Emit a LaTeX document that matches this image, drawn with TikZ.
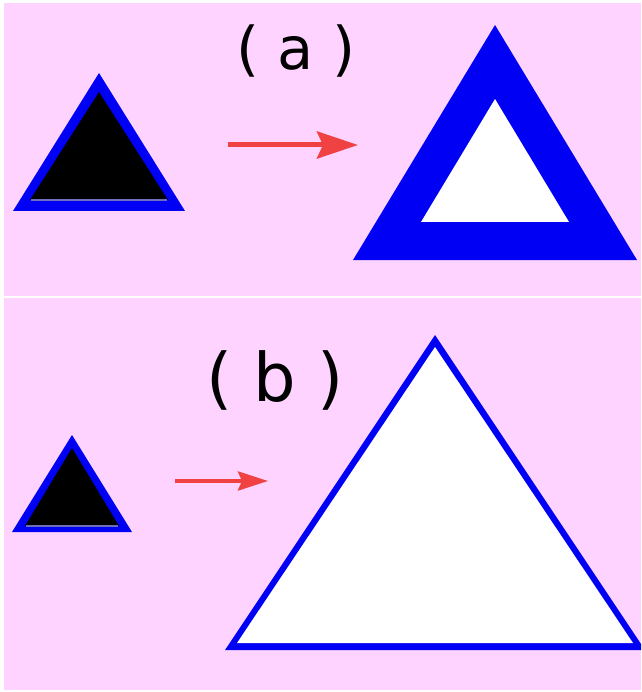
\documentclass[tikz,border=0pt]{standalone}
\usepackage{fontspec}
\setmainfont{DejaVu Sans}
\usetikzlibrary{arrows.meta}
\definecolor{panelpink}{RGB}{255,211,255}
\definecolor{rimblue}{RGB}{0,0,245}
\definecolor{arrowred}{RGB}{240,66,66}
\definecolor{seamblue}{RGB}{110,110,190}

\begin{document}
\begin{tikzpicture}[x=1pt,y=-1pt,
  panel/.style={fill=panelpink},
  rim/.style={fill=rimblue},
  core/.style={fill=black},
  hole/.style={fill=white},
  seam/.style={draw=seamblue,line width=1.2pt},
  push/.style={draw=arrowred,line width=#1},
  tag/.style={anchor=base,inner sep=0pt}]
  \useasboundingbox (0,0) rectangle (641,692);
  \fill[white] (0,0) rectangle (641,692);
  \fill[panel] (4,3) rectangle (641,296);
  \fill[panel] (4,298) rectangle (641,690);
  \clip (0,0) rectangle (641,692);
  % (a)
  \node[tag,font=\fontsize{59}{62}\selectfont] (taga) at (296,70) {( a )};
  \fill[rim] (99,73) -- (13,211) -- (185,211) -- cycle;
  \fill[core] (99,92) -- (30,200) -- (168,200) -- cycle;
  \draw[seam] (31,200) -- (167,200);
  \coordinate (fromA) at (228,145);
  \coordinate (toA) at (358,145);
  \draw[push=5pt,-{Stealth[length=41pt,width=27pt,inset=6pt]}] (fromA) -- (toA);
  \fill[rim] (495,25) -- (353,260) -- (637,260) -- cycle;
  \fill[hole] (495,99) -- (421,222) -- (569,222) -- cycle;
  % (b)
  \node[tag,font=\fontsize{67}{70}\selectfont] (tagb) at (275,401) {( b )};
  \fill[rim] (72,435) -- (12,532) -- (132,532) -- cycle;
  \fill[core] (72,448) -- (25,526) -- (119,526) -- cycle;
  \draw[seam] (26,526) -- (118,526);
  \coordinate (fromB) at (175,481);
  \coordinate (toB) at (268,481);
  \draw[push=4pt,-{Stealth[length=30pt,width=19pt,inset=4pt]}] (fromB) -- (toB);
  \fill[rim] (435,335) -- (225,650) -- (645,650) -- cycle;
  \fill[hole] (435,347) -- (237,643) -- (633,643) -- cycle;
\end{tikzpicture}
\end{document}
